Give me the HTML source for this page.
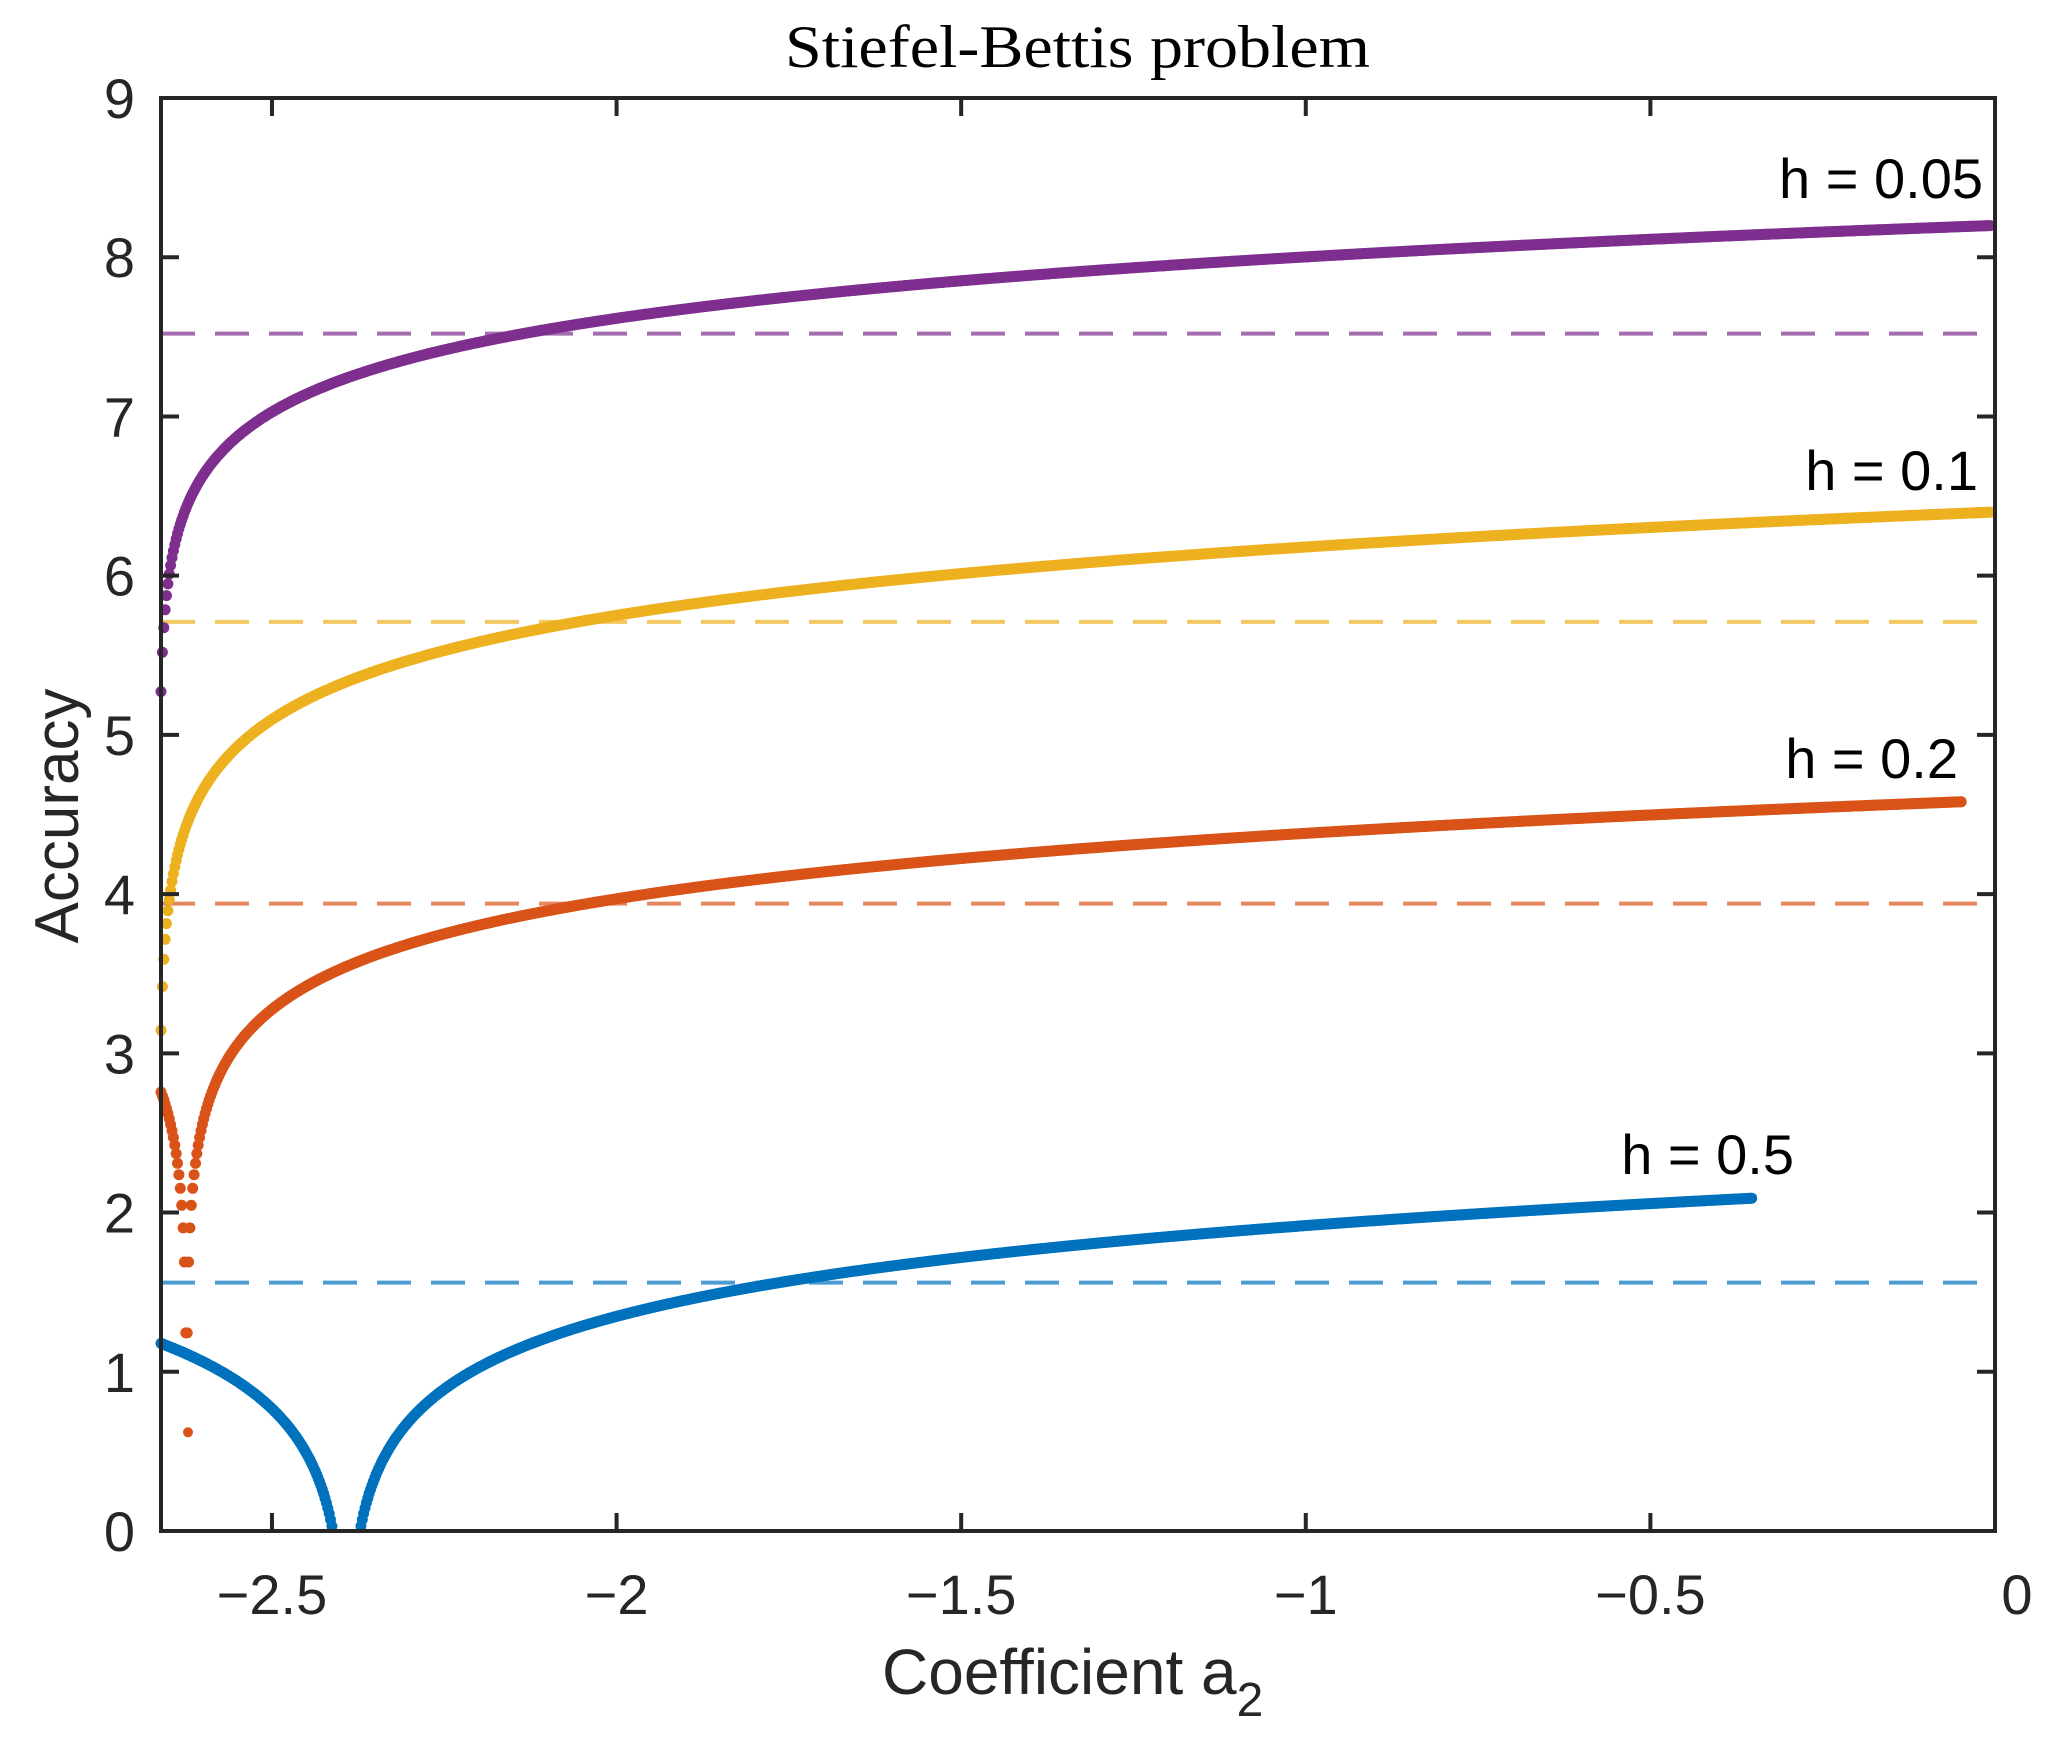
<!DOCTYPE html>
<html><head><meta charset="utf-8"><style>
html,body{margin:0;padding:0;background:#fff;}
svg{display:block;}
text{font-family:"Liberation Sans",sans-serif;fill:#262626;}
</style></head><body>
<svg id="s" width="2056" height="1748" viewBox="0 0 2056 1748" xmlns="http://www.w3.org/2000/svg">
<rect width="2056" height="1748" fill="#fff"/>
<g id="dash"></g>
<g id="data"></g>
<g id="axes" stroke="#262626" stroke-width="4" fill="none">
<rect x="161" y="98" width="1834" height="1433"/>
</g>
<g id="ticks" stroke="#262626" stroke-width="4"></g>
<g id="labels" font-size="56"></g>
<text x="785" y="67" font-size="60" style="font-family:'Liberation Serif',serif;fill:#000" textLength="585" lengthAdjust="spacingAndGlyphs">Stiefel-Bettis problem</text>
<text x="882" y="1694" font-size="64">Coefficient a<tspan font-size="48" dy="22">2</tspan></text>
<text transform="translate(78,816) rotate(-90)" text-anchor="middle" font-size="62">Accuracy</text>
<g font-size="56" fill="#000" text-anchor="end">
<text x="1983" y="198" style="fill:#000">h = 0.05</text>
<text x="1978" y="490" style="fill:#000">h = 0.1</text>
<text x="1958" y="778" style="fill:#000">h = 0.2</text>
<text x="1794" y="1174" style="fill:#000">h = 0.5</text>
</g>
</svg>
<script>
var NS="http://www.w3.org/2000/svg";
var X0=161,X1=1995,AMIN=-2.661,AMAX=0,Y0=1531,YU=159.22;
function px(a){return X0+(a-AMIN)/(AMAX-AMIN)*(X1-X0);}
function py(v){return Y0-v*YU;}
function el(t,at,p){var e=document.createElementNS(NS,t);for(var k in at)e.setAttribute(k,at[k]);(p||document.getElementById('data')).appendChild(e);return e;}
var ticks=document.getElementById('ticks'),labels=document.getElementById('labels');
for(var i=0;i<=9;i++){var y=py(i);
 el('line',{x1:X0,y1:y,x2:X0+18,y2:y},ticks);el('line',{x1:X1,y1:y,x2:X1-18,y2:y},ticks);
 var t=el('text',{x:135,y:y+20,'text-anchor':'end'},labels);t.textContent=i;}
var xt=[-2.5,-2,-1.5,-1,-0.5,0];
xt.forEach(function(a){var x=px(a);
 el('line',{x1:x,y1:Y0,x2:x,y2:Y0-18},ticks);el('line',{x1:x,y1:98,x2:x,y2:116},ticks);
 var t=el('text',{x:(a===0?x+22:x),y:1614,'text-anchor':'middle'},labels);
 t.textContent=(a===0?'0':'\u2212'+String(-a));});
var dg=document.getElementById('dash');
[[7.52,'#7E2F8E'],[5.71,'#EDB120'],[3.94,'#D95319'],[1.56,'#0072BD']].forEach(function(d){
 el('line',{x1:X0,y1:py(d[0]),x2:X1,y2:py(d[0]),stroke:d[1],'stroke-width':4,'stroke-dasharray':'34 20','stroke-opacity':0.7},dg);});
function series(col,f,aEnd){
 var g=el('g',{fill:col});
 for(var a=-2.661;a<=aEnd+1e-9;a+=0.002){var v=f(a);if(v<0||v>9)continue;
  el('circle',{cx:px(a).toFixed(1),cy:py(v).toFixed(1),r:5.5},g);}
 return g;
}
series('#0072BD',function(a){return 2.09+0.45*(Math.log(Math.abs(a+2.392))-Math.log(2.039));},-0.353);
var og=series('#D95319',function(a){return 4.58+0.43*(Math.log(Math.abs(a+2.624)+1e-4)-Math.log(2.575));},-0.049);
el('circle',{cx:188,cy:py(0.62).toFixed(1),r:5},og);
series('#EDB120',function(a){return 6.4+0.467*(Math.log(a+2.6635)-Math.log(2.6635));},-0.007);
series('#7E2F8E',function(a){return 8.2+0.42*(Math.log(a+2.6635)-Math.log(2.6635));},-0.007);
</script>
</body></html>
